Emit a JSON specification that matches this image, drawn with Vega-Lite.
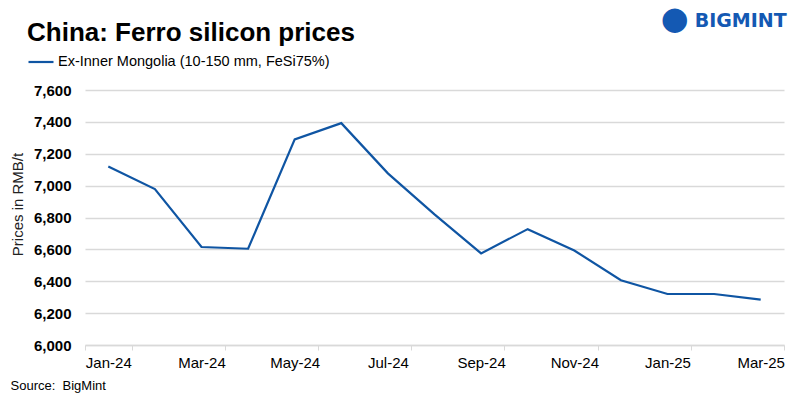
{
  "$schema": "https://vega.github.io/schema/vega-lite/v6.json",
  "autosize": "none",
  "width": 699,
  "height": 255,
  "padding": {"left": 85, "top": 90, "right": 16, "bottom": 54},
  "background": "white",
  "config": {"font": "Liberation Sans", "view": {"stroke": null}},
  "title": {
    "text": "China: Ferro silicon prices",
    "anchor": "start",
    "frame": "group",
    "fontSize": 26,
    "fontWeight": "bold",
    "color": "#000000",
    "dx": -58,
    "baseline": "alphabetic",
    "offset": -64
  },
  "data": {
    "values": [
      {"month": "Jan-24", "price": 7120, "series": "Ex-Inner Mongolia (10-150 mm, FeSi75%)"},
      {"month": "Feb-24", "price": 6978, "series": "Ex-Inner Mongolia (10-150 mm, FeSi75%)"},
      {"month": "Mar-24", "price": 6615, "series": "Ex-Inner Mongolia (10-150 mm, FeSi75%)"},
      {"month": "Apr-24", "price": 6604, "series": "Ex-Inner Mongolia (10-150 mm, FeSi75%)"},
      {"month": "May-24", "price": 7290, "series": "Ex-Inner Mongolia (10-150 mm, FeSi75%)"},
      {"month": "Jun-24", "price": 7392, "series": "Ex-Inner Mongolia (10-150 mm, FeSi75%)"},
      {"month": "Jul-24", "price": 7077, "series": "Ex-Inner Mongolia (10-150 mm, FeSi75%)"},
      {"month": "Aug-24", "price": 6820, "series": "Ex-Inner Mongolia (10-150 mm, FeSi75%)"},
      {"month": "Sep-24", "price": 6575, "series": "Ex-Inner Mongolia (10-150 mm, FeSi75%)"},
      {"month": "Oct-24", "price": 6727, "series": "Ex-Inner Mongolia (10-150 mm, FeSi75%)"},
      {"month": "Nov-24", "price": 6593, "series": "Ex-Inner Mongolia (10-150 mm, FeSi75%)"},
      {"month": "Dec-24", "price": 6406, "series": "Ex-Inner Mongolia (10-150 mm, FeSi75%)"},
      {"month": "Jan-25", "price": 6320, "series": "Ex-Inner Mongolia (10-150 mm, FeSi75%)"},
      {"month": "Feb-25", "price": 6320, "series": "Ex-Inner Mongolia (10-150 mm, FeSi75%)"},
      {"month": "Mar-25", "price": 6285, "series": "Ex-Inner Mongolia (10-150 mm, FeSi75%)"}
    ]
  },
  "resolve": {"scale": {"y": "independent"}, "axis": {"y": "independent"}},
  "layer": [
    {
      "mark": {"type": "line", "strokeWidth": 2.2},
      "encoding": {
        "x": {
          "field": "month",
          "type": "ordinal",
          "sort": null,
          "scale": {"type": "band", "paddingInner": 0, "paddingOuter": 0},
          "axis": {
            "values": ["Jan-24", "Mar-24", "May-24", "Jul-24", "Sep-24", "Nov-24", "Jan-25", "Mar-25"],
            "tickBand": "extent",
            "labelAngle": 0,
            "labelFontSize": 15,
            "labelColor": "#000000",
            "labelPadding": 5,
            "labelBaseline": "top",
            "tickSize": 5,
            "tickColor": "#d9d9d9",
            "domainColor": "#d9d9d9",
            "domainWidth": 1.5,
            "grid": false,
            "title": "Source:\u00a0\u00a0BigMint",
            "titleFontSize": 13,
            "titleFontWeight": "normal",
            "titleColor": "#000000",
            "titleAnchor": "start",
            "titleAlign": "left",
            "titleBaseline": "middle",
            "titleX": -75,
            "titleY": 40
          }
        },
        "y": {
          "field": "price",
          "type": "quantitative",
          "scale": {"domain": [6000, 7600], "nice": false, "zero": false},
          "axis": {
            "values": [6000, 6200, 6400, 6600, 6800, 7000, 7200, 7400, 7600],
            "format": ",.0f",
            "labelOverlap": false,
            "domain": false,
            "ticks": false,
            "labelFontSize": 15,
            "labelFontWeight": "bold",
            "labelColor": "#000000",
            "labelPadding": 14,
            "gridColor": "#d9d9d9",
            "gridWidth": 1.3,
            "title": "Prices in RMB/t",
            "titleFontSize": 15,
            "titleFontWeight": "normal",
            "titleColor": "#222222",
            "titleX": -68,
            "titleY": 114,
            "titleAlign": "center",
            "titleBaseline": "middle",
            "titleAngle": -90
          }
        },
        "color": {
          "field": "series",
          "type": "nominal",
          "scale": {"range": ["#0f55a3"]},
          "legend": {
            "title": null,
            "orient": "none",
            "legendX": -58,
            "legendY": -42,
            "padding": 0,
            "symbolType": "stroke",
            "symbolSize": 625,
            "symbolStrokeWidth": 2.2,
            "labelFontSize": 14.5,
            "labelLimit": 0,
            "labelColor": "#000000",
            "labelOffset": 3
          }
        }
      }
    },
    {
      "data": {"values": [{"logo": "BIGMINT", "level": 7600}]},
      "mark": {"type": "text", "align": "left", "baseline": "alphabetic", "dx": -66, "dy": -63, "fontSize": 19, "font": "DejaVu Sans", "fontWeight": "bold", "color": "#1459b3"},
      "encoding": {
        "x": {"datum": "Mar-25"},
        "y": {"field": "level", "type": "quantitative", "scale": {"domain": [6000, 7600]}, "axis": null},
        "text": {"field": "logo"}
      }
    },
    {
      "data": {"values": [{"icon": "●", "level": 7600}]},
      "mark": {"type": "text", "align": "center", "baseline": "middle", "dx": -86, "dy": -71, "fontSize": 32, "font": "DejaVu Sans", "color": "#1459b3"},
      "encoding": {
        "x": {"datum": "Mar-25"},
        "y": {"field": "level", "type": "quantitative", "scale": {"domain": [6000, 7600]}, "axis": null},
        "text": {"field": "icon"}
      }
    }
  ]
}
